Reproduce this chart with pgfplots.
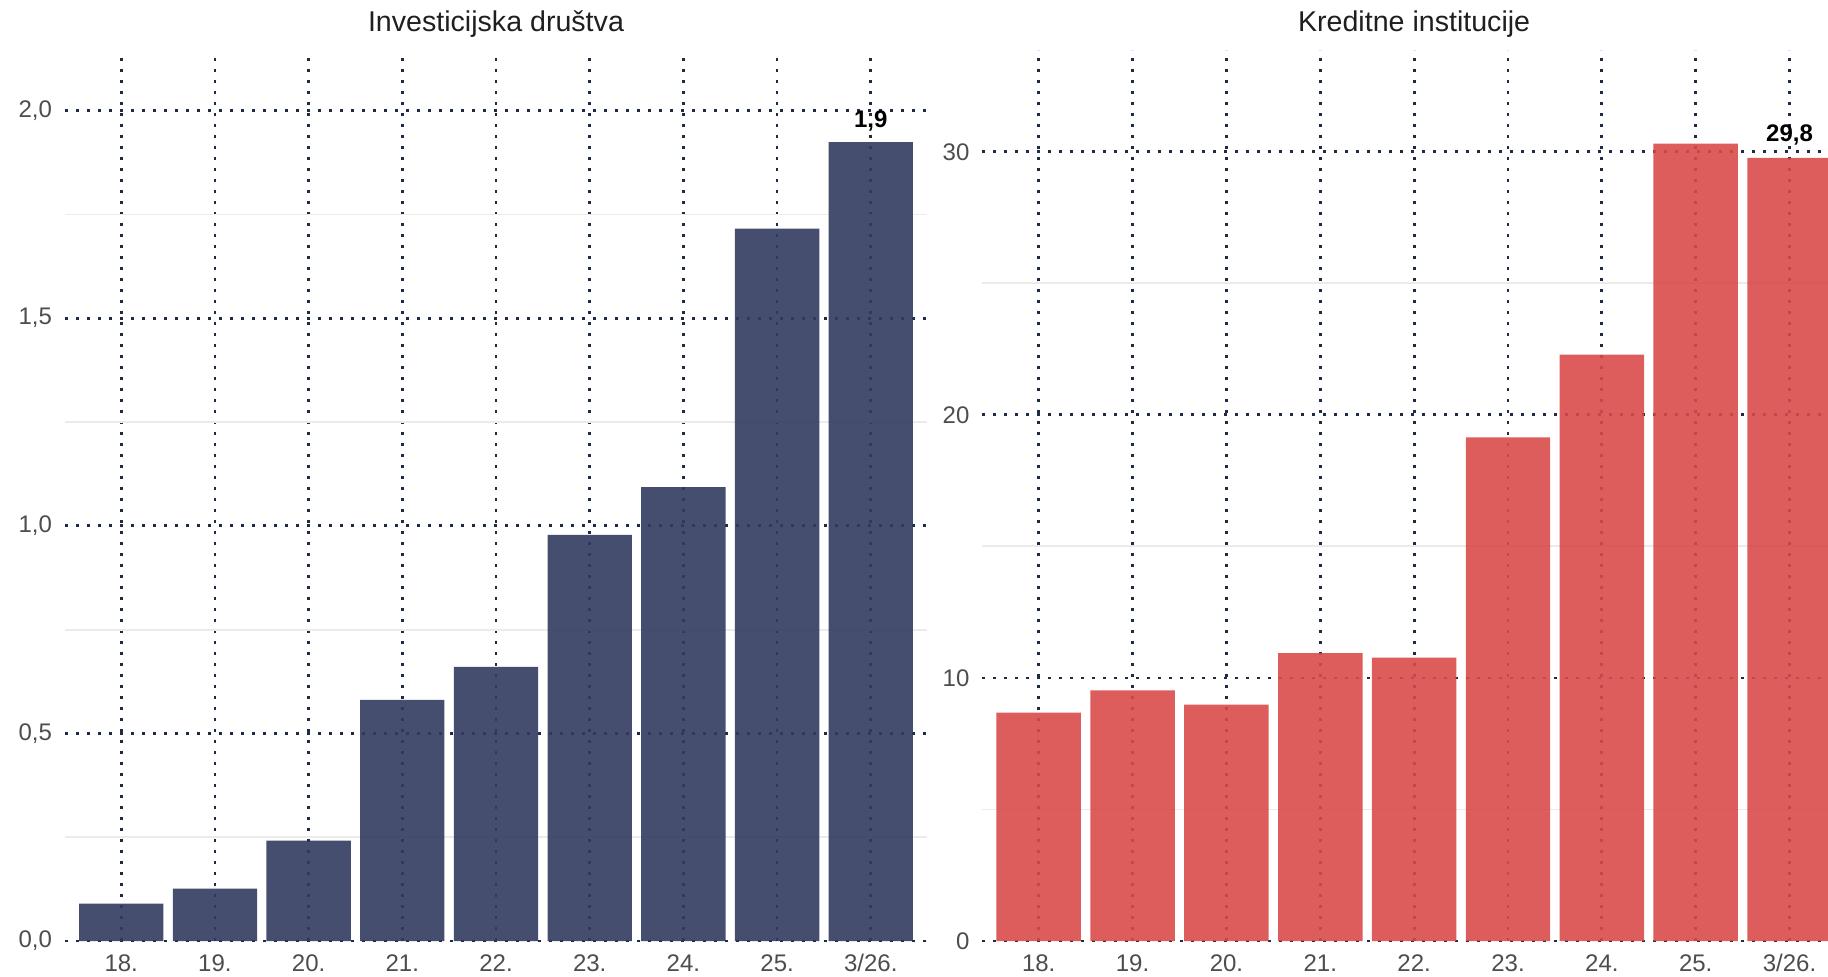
\documentclass[border=0pt]{standalone}
\usepackage{pgfplots}
\pgfplotsset{compat=1.18}
\usepackage{fontspec}
\setmainfont{Liberation Sans}
\definecolor{navybar}{HTML}{323B60}
\definecolor{redbar}{HTML}{D84B49}
\definecolor{griddot}{HTML}{1F2A44}
\definecolor{minorg}{HTML}{EBEBEB}
\definecolor{ticktxt}{HTML}{4D4D4D}

\pgfplotstableread{
x y
0 0.090
1 0.126
2 0.242
3 0.581
4 0.660
5 0.978
6 1.093
7 1.716
8 1.924
}\investdata

\pgfplotstableread{
x y
0 8.68
1 9.53
2 8.99
3 10.94
4 10.77
5 19.14
6 22.29
7 30.31
8 29.77
}\kreditdata

\pgfplotsset{panel/.style={
  scale only axis,
  height=445.5bp,
  ybar, bar width=0.9,
  ymin=0, xmin=-0.6,
  enlargelimits=false,
  clip=false,
  axis line style={draw=none},
  tick style={draw=none},
  major tick length=0pt,
  xtick={0,...,8},
  xticklabels={18.,19.,20.,21.,22.,23.,24.,25.,3/26.},
  xmajorgrids, ymajorgrids, yminorgrids,
  major grid style={griddot, line width=1.4bp, dash pattern=on 1.4bp off 4.1bp},
  minor grid style={minorg, line width=0.9bp, solid},
  /pgf/number format/assume math mode=true,
  ticklabel style={font=\fontsize{12bp}{14bp}\selectfont, text=ticktxt},
  xticklabel style={anchor=base, yshift=-15bp},
  yticklabel style={anchor=east, xshift=-3bp},
}}

\begin{document}
\begin{tikzpicture}
\begin{axis}[panel,
  at={(32.5bp,18bp)}, anchor=south west,
  width=431bp,
  xmax=8.6, ymax=2.146,
  ytick={0,0.5,1,1.5,2},
  minor ytick={0.25,0.75,1.25,1.75},
  yticklabel style={/pgf/number format/.cd, fixed, fixed zerofill, precision=1, use comma},
]
\addplot[draw=none, fill=navybar, fill opacity=0.9] table[x=x,y=y] {\investdata};
\node[anchor=base, font=\bfseries\fontsize{12bp}{14bp}\selectfont, text=black] at (axis cs:8,1.924) [yshift=7.5bp] {1,9};
\node[anchor=base, font=\fontsize{14.3bp}{16bp}\selectfont, text=black!88] at (axis cs:4,2.146) [yshift=9.2bp] {Investicijska društva};
\end{axis}

\begin{axis}[panel,
  at={(491.2bp,18bp)}, anchor=south west,
  width=422.8bp,
  xmax=8.41, ymax=33.87,
  ytick={0,10,20,30},
  minor ytick={5,15,25},
]
\addplot[draw=none, fill=redbar, fill opacity=0.9] table[x=x,y=y] {\kreditdata};
\node[anchor=base, font=\bfseries\fontsize{12bp}{14bp}\selectfont, text=black] at (axis cs:8,29.77) [yshift=8bp] {29,8};
\node[anchor=base, font=\fontsize{14.3bp}{16bp}\selectfont, text=black!88] at (axis cs:4,33.87) [yshift=9.2bp] {Kreditne institucije};
\end{axis}
\pgfresetboundingbox
\useasboundingbox (0,0) rectangle (914bp,488.5bp);
\end{tikzpicture}
\end{document}
